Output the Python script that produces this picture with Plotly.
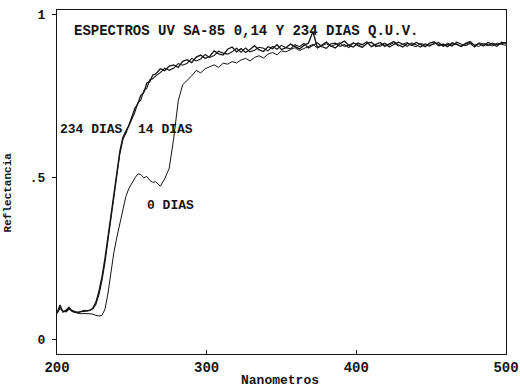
import plotly.graph_objects as go

wavelength_nm = [
    200, 202, 204, 206, 208, 210, 212, 214, 216, 218, 220, 222, 224, 226, 228, 230, 232,
    234, 236, 238, 240, 242, 244, 246, 248, 250, 252, 254, 256, 258, 260, 262, 264,
    266, 269, 272, 275, 278, 281, 284, 287, 290, 293,
    296, 299, 302, 305, 308, 311, 314, 317, 320, 323,
    326, 329, 332, 335, 338, 341, 344, 347, 350, 353,
    356, 359, 362, 365, 368, 371, 374, 377, 380, 383,
    386, 389, 392, 395, 398, 401, 404, 407, 410, 413,
    416, 419, 422, 425, 428, 431, 434, 437, 440, 443,
    446, 449, 452, 455, 458, 461, 464, 467, 470, 473,
    476, 479, 482, 485, 488, 491, 494, 497, 500,
]

refl_234_dias = [
    0.082, 0.106, 0.084, 0.090, 0.099, 0.087, 0.084, 0.082, 0.086, 0.089, 0.088, 0.090, 0.097,
    0.115, 0.148, 0.192, 0.248, 0.315, 0.385, 0.452, 0.525, 0.580, 0.622, 0.640, 0.660, 0.685,
    0.712, 0.726, 0.752, 0.760, 0.790, 0.794, 0.815,
    0.818, 0.834, 0.828, 0.842, 0.846, 0.838, 0.857, 0.862, 0.853, 0.870,
    0.876, 0.866, 0.872, 0.889, 0.880, 0.876, 0.894, 0.901, 0.886, 0.896,
    0.884, 0.893, 0.905, 0.892, 0.887, 0.902, 0.896, 0.908, 0.893, 0.899,
    0.910, 0.902, 0.895, 0.906, 0.913, 0.948, 0.899, 0.907, 0.916, 0.904,
    0.898, 0.911, 0.919, 0.906, 0.901, 0.913, 0.908, 0.917, 0.902, 0.909,
    0.915, 0.903, 0.910, 0.918, 0.908, 0.901, 0.912, 0.906, 0.915, 0.909,
    0.902, 0.913, 0.917, 0.905, 0.910, 0.902, 0.914, 0.909, 0.903, 0.912,
    0.918, 0.906, 0.911, 0.904, 0.915, 0.909, 0.903, 0.916, 0.912,
]

refl_14_dias = [
    0.080, 0.095, 0.087, 0.085, 0.093, 0.089, 0.086, 0.084, 0.085, 0.087, 0.087, 0.089, 0.094,
    0.108, 0.138, 0.180, 0.236, 0.302, 0.372, 0.442, 0.515, 0.572, 0.615, 0.636, 0.654, 0.680,
    0.700, 0.728, 0.738, 0.766, 0.774, 0.800, 0.803,
    0.812, 0.822, 0.836, 0.829, 0.836, 0.850, 0.845, 0.851, 0.866, 0.858,
    0.864, 0.878, 0.869, 0.875, 0.888, 0.882, 0.879, 0.886, 0.897, 0.885,
    0.898, 0.886, 0.891, 0.900, 0.897, 0.889, 0.903, 0.894, 0.906, 0.899,
    0.895, 0.908, 0.902, 0.912, 0.898, 0.906, 0.914, 0.902, 0.897, 0.911,
    0.913, 0.903, 0.908, 0.899, 0.914, 0.905, 0.900, 0.911, 0.915, 0.902,
    0.907, 0.913, 0.901, 0.908, 0.916, 0.910, 0.903, 0.914, 0.907, 0.901,
    0.911, 0.906, 0.910, 0.915, 0.903, 0.909, 0.904, 0.916, 0.910, 0.905,
    0.912, 0.901, 0.914, 0.910, 0.905, 0.913, 0.908, 0.911, 0.915,
]

refl_0_dias = [
    0.082, 0.100, 0.085, 0.088, 0.096, 0.086, 0.083, 0.080, 0.079, 0.080, 0.079, 0.078, 0.078,
    0.074, 0.072, 0.074, 0.092, 0.140, 0.205, 0.268, 0.315, 0.360, 0.402, 0.440, 0.465, 0.482,
    0.497, 0.510, 0.508, 0.498, 0.502, 0.490, 0.484,
    0.486, 0.472, 0.495, 0.528, 0.620, 0.735, 0.785, 0.798, 0.812, 0.829,
    0.821, 0.834, 0.841, 0.846, 0.838, 0.851, 0.848, 0.856, 0.852, 0.861,
    0.866, 0.858, 0.869, 0.874, 0.867, 0.879, 0.884, 0.877, 0.889, 0.886,
    0.893, 0.899, 0.890, 0.897, 0.904, 0.909, 0.898, 0.905, 0.911, 0.903,
    0.908, 0.914, 0.902, 0.907, 0.913, 0.908, 0.901, 0.912, 0.916, 0.905,
    0.903, 0.911, 0.907, 0.914, 0.904, 0.909, 0.915, 0.906, 0.902, 0.912,
    0.908, 0.903, 0.914, 0.909, 0.904, 0.913, 0.907, 0.911, 0.902, 0.910,
    0.915, 0.906, 0.903, 0.912, 0.908, 0.904, 0.913, 0.909, 0.906,
]

x_tick_vals = [200, 300, 400, 500]
x_tick_text = ["200", "300", "400", "500"]
y_tick_vals = [0, 0.5, 1]
y_tick_text = ["0", ".5", "1"]

title_text = "ESPECTROS UV SA-85 0,14 Y 234 DIAS Q.U.V."
label_upper = "234 DIAS, 14 DIAS"
label_lower = "0 DIAS"
x_title = "Nanometros"
y_title = "Reflectancia"

FONT = "Liberation Mono"
INK = "#141414"

fig = go.Figure()
fig.add_trace(go.Scatter(x=wavelength_nm, y=refl_0_dias, mode="lines",
                         line=dict(color=INK, width=1), name="0 DIAS"))
fig.add_trace(go.Scatter(x=wavelength_nm, y=refl_14_dias, mode="lines",
                         line=dict(color=INK, width=1.1), name="14 DIAS"))
fig.add_trace(go.Scatter(x=wavelength_nm, y=refl_234_dias, mode="lines",
                         line=dict(color=INK, width=1.3), name="234 DIAS"))

fig.add_annotation(x=210, y=0.951, xref="x", yref="y", text="<b>" + title_text + "</b>",
                   showarrow=False, xanchor="left", yanchor="middle",
                   font=dict(family=FONT, size=14, color=INK))
fig.add_annotation(x=200.7, y=0.646, xref="x", yref="y", text="<b>" + label_upper + "</b>",
                   showarrow=False, xanchor="left", yanchor="middle",
                   font=dict(family=FONT, size=13, color=INK))
fig.add_annotation(x=258.8, y=0.412, xref="x", yref="y", text="<b>" + label_lower + "</b>",
                   showarrow=False, xanchor="left", yanchor="middle",
                   font=dict(family=FONT, size=13, color=INK))
fig.add_annotation(x=0.497, y=-0.078, xref="paper", yref="paper", text="<b>" + x_title + "</b>",
                   showarrow=False, xanchor="center", yanchor="middle",
                   font=dict(family=FONT, size=13, color=INK))
fig.add_annotation(x=-0.109, y=0.47, xref="paper", yref="paper", text="<b>" + y_title + "</b>",
                   showarrow=False, xanchor="center", yanchor="middle", textangle=-90,
                   font=dict(family=FONT, size=11, color=INK))

fig.update_layout(
    width=520, height=392,
    margin=dict(l=57, r=14, t=10, b=38, autoexpand=False),
    paper_bgcolor="white", plot_bgcolor="white",
    showlegend=False,
    font=dict(family=FONT, color=INK),
    xaxis=dict(range=[200, 500], showgrid=False, zeroline=False, automargin=False,
               showline=True, linecolor=INK, linewidth=1, mirror=True,
               ticks="inside", ticklen=4, tickcolor=INK,
               tickvals=x_tick_vals, ticktext=x_tick_text,
               tickfont=dict(family=FONT, size=14, color=INK, weight="bold")),
    yaxis=dict(range=[-0.045, 1.015], showgrid=False, zeroline=False, automargin=False,
               showline=True, linecolor=INK, linewidth=1, mirror=True,
               ticks="outside", ticklen=4, tickcolor=INK,
               tickvals=y_tick_vals, ticktext=y_tick_text, ticklabelstandoff=4,
               tickfont=dict(family=FONT, size=13, color=INK, weight="bold")),
)

fig.write_html("out.html", config={"displayModeBar": False},
               post_script="document.body.style.margin='0';")
